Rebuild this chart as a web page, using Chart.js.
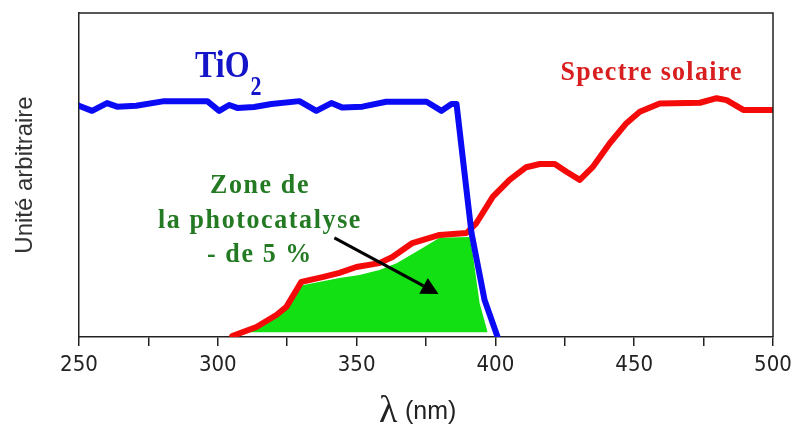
<!DOCTYPE html>
<html><head><meta charset="utf-8">
<script src="https://cdn.jsdelivr.net/npm/chart.js@4.4.1/dist/chart.umd.min.js"></script>
<style>html,body{margin:0;padding:0;background:#fff}#wrap{width:792px;height:425px;position:relative}</style>
</head><body><div id="wrap"><canvas id="c"></canvas></div>
<script>
// TiO2 absorption curve (wavelength nm, arbitrary units)
const blueNm  = [250, 254.7, 260.1, 263.7, 270.6, 280.7, 296.2, 300.5, 304.1, 307.0, 313.1, 319.3, 329.4, 335.5, 340.9, 344.9, 352.1, 360.7, 375.2, 380.6, 384.2, 386.0, 390.0, 391.4, 396.1, 400.8];
const blueVal = [71.4, 69.8, 72.2, 71.1, 71.4, 72.8, 72.8, 69.8, 71.6, 70.7, 71.0, 71.9, 72.8, 69.8, 72.2, 70.8, 71.1, 72.6, 72.6, 69.8, 71.9, 71.9, 42.3, 32.1, 11.4, 0];
// Solar spectrum
const redNm  = [305.2, 313.9, 321.1, 324.7, 330.1, 337.7, 343.8, 349.9, 358.2, 362.9, 370.1, 379.9, 389.6, 393.1, 399.1, 405.1, 411.1, 416.0, 421.4, 425.6, 430.4, 435.2, 441.2, 447.2, 452.0, 459.2, 473.7, 479.7, 483.3, 489.3, 500];
const redVal = [0.3, 3.1, 6.8, 9.3, 17.0, 18.5, 19.8, 21.6, 22.8, 24.7, 29.0, 31.5, 32.1, 35.1, 43.3, 48.5, 52.4, 53.4, 53.4, 51.0, 48.5, 52.6, 59.8, 66.0, 69.5, 72.1, 72.3, 73.7, 73.1, 70.1, 70.1];
// Photocatalysis zone (green area outline)
const zoneNm  = [311.3, 323.2, 330.4, 343.8, 351.0, 358.2, 364.4, 372.7, 379.9, 390.7, 391.8, 394.3, 397.2];
const zoneVal = [1.5, 8.3, 16.0, 18.2, 19.1, 20.7, 22.8, 26.9, 30.6, 30.9, 25.9, 10.5, 1.5];
const zoneBase = 1.5;
// Axis ticks
const xMin = 250, xMax = 500, xStep = 25, xLabelStep = 50;
const yMin = 0, yMax = 100;
// Labels
const yTitle = 'Unité arbitraire';
const xTitleSymbol = 'λ', xTitleUnit = '(nm)';
const tioLabel = ['TiO', '2'];
const solarLabel = 'Spectre solaire';
const zoneLines = ['Zone de', 'la photocatalyse', '- de 5 %'];
const zoneLineVals = [44.4, 33.6, 23.1];
const zoneTextNm = 315.2;
const arrowFrom = [342.0, 30.6], arrowTo = [379.5, 13.3];

const pts = (xs, ys) => xs.map((v, i) => ({x: v, y: ys[i]}));

function sText(ctx, txt, px, py, font, color, align, ls, sy) {
  ctx.save();
  ctx.font = font; ctx.fillStyle = color; ctx.textAlign = align; ctx.textBaseline = 'alphabetic';
  ctx.letterSpacing = ls + 'px';
  ctx.translate(px, py); ctx.scale(1, sy);
  ctx.fillText(txt, 0, 0);
  ctx.restore();
}

const annot = {
  id: 'annot',
  afterDatasetsDraw(chart) {
    const {ctx, scales: {x, y}, chartArea: a} = chart;
    ctx.save();
    ctx.strokeStyle = '#222'; ctx.lineWidth = 1.5;
    ctx.beginPath(); ctx.moveTo(a.left, a.top); ctx.lineTo(a.right, a.top); ctx.lineTo(a.right, a.bottom); ctx.stroke();
    const x1 = x.getPixelForValue(arrowFrom[0]), y1 = y.getPixelForValue(arrowFrom[1]);
    const x2 = x.getPixelForValue(arrowTo[0]), y2 = y.getPixelForValue(arrowTo[1]);
    const ang = Math.atan2(y2 - y1, x2 - x1), hl = 17, hw = 9;
    const bx = x2 - hl * Math.cos(ang), by = y2 - hl * Math.sin(ang);
    ctx.strokeStyle = '#000'; ctx.fillStyle = '#000'; ctx.lineWidth = 3;
    ctx.beginPath(); ctx.moveTo(x1, y1); ctx.lineTo(bx, by); ctx.stroke();
    ctx.beginPath(); ctx.moveTo(x2, y2);
    ctx.lineTo(bx - hw * Math.sin(ang), by + hw * Math.cos(ang));
    ctx.lineTo(bx + hw * Math.sin(ang), by - hw * Math.cos(ang));
    ctx.closePath(); ctx.fill();
    ctx.restore();
    const tx = x.getPixelForValue(291.8), ty = y.getPixelForValue(80.2);
    const tFont = 'bold 32px "Liberation Serif"';
    sText(ctx, tioLabel[0], tx, ty, tFont, '#1414c8', 'left', 0, 1.2);
    ctx.save(); ctx.font = tFont; const tw = ctx.measureText(tioLabel[0]).width; ctx.restore();
    sText(ctx, tioLabel[1], tx + tw + 1, ty + 18, 'bold 22px "Liberation Serif"', '#1414c8', 'left', 0, 1.2);
    sText(ctx, solarLabel, x.getPixelForValue(456.3), y.getPixelForValue(79.3), 'bold 26px "Liberation Serif"', '#d81e1e', 'center', 1.3, 1.05);
    zoneLines.forEach((t, i) => {
      sText(ctx, t, x.getPixelForValue(zoneTextNm), y.getPixelForValue(zoneLineVals[i]), 'bold 26px "Liberation Serif"', '#237a23', 'center', 1.6, 1.05);
    });
    const cx = (a.left + a.right) / 2;
    sText(ctx, xTitleSymbol, cx - 47, 422, '38px "Liberation Serif"', '#222', 'left', 0, 1.0);
    sText(ctx, xTitleUnit, cx - 21, 419, '25px "Liberation Sans"', '#222', 'left', 0, 1.05);
  }
};

new Chart(document.getElementById('c'), {
  type: 'line',
  data: {
    datasets: [
      {label: 'TiO2', data: pts(blueNm, blueVal), borderColor: '#0a0af5', borderWidth: 6, pointRadius: 0, fill: false, tension: 0, order: 1, borderJoinStyle: 'round', borderCapStyle: 'round'},
      {label: 'Spectre solaire', data: pts(redNm, redVal), borderColor: '#f50a0a', borderWidth: 6, pointRadius: 0, fill: false, tension: 0, order: 2, borderJoinStyle: 'round', borderCapStyle: 'round'},
      {label: 'Zone de la photocatalyse', data: pts(zoneNm, zoneVal), borderWidth: 0, borderColor: 'rgba(0,0,0,0)', backgroundColor: '#12e012', pointRadius: 0, fill: {value: zoneBase}, tension: 0, order: 3}
    ]
  },
  options: {
    responsive: true, maintainAspectRatio: false, animation: false,
    layout: {padding: {top: 13, right: 19, left: 0, bottom: 0}},
    plugins: {legend: {display: false}, tooltip: {enabled: false}},
    scales: {
      x: {
        type: 'linear', min: xMin, max: xMax,
        ticks: {stepSize: xStep, autoSkip: false, maxRotation: 0, padding: 6, color: '#222',
          font: {family: '"Liberation Sans Narrow", "DejaVu Sans Condensed", "Liberation Sans"', size: 22},
          callback: v => (v % xLabelStep === 0 ? v : '')},
        grid: {display: true, drawOnChartArea: false, drawTicks: true, tickLength: 9, color: '#222', lineWidth: 1.5},
        border: {display: true, color: '#222', width: 1.5},
        afterFit: s => { s.height = 88; s.paddingLeft = 0; s.paddingRight = 0; }
      },
      y: {
        min: yMin, max: yMax,
        ticks: {display: false},
        grid: {display: true, drawOnChartArea: false, drawTicks: false},
        border: {display: true, color: '#222', width: 1.5},
        title: {display: true, text: yTitle, color: '#333', font: {family: '"Liberation Sans"', size: 24}, padding: {top: 11, bottom: 0}},
        afterFit: s => { s.width = 79; }
      }
    }
  },
  plugins: [annot]
});
</script>
</body></html>
